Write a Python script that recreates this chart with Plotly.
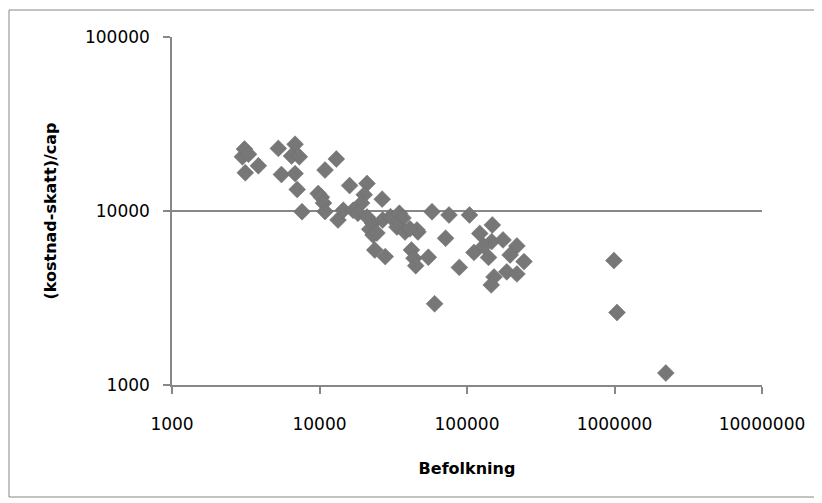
import plotly.graph_objects as go

befolkning = [3000, 3100, 3300, 3140, 3850, 5260, 5520, 6830, 6460, 7300,
              6830, 7060, 7610, 10900, 13000, 9800, 10300, 10650, 10900, 13350,
              14500, 16000, 16900, 21000, 20100, 19300, 18200, 26600, 22950, 21000,
              21900, 23050, 23700, 27900, 26800, 30300, 34800, 36800, 33500, 38000,
              46500, 42000, 43700, 44900, 54700, 57900, 71600, 60300, 88700, 75500,
              104000, 148500, 122000, 147000, 175500, 111500, 140000, 218000, 196000, 243500,
              152500, 186000, 218000, 146000, 130000, 24500, 45800, 41000,
              991000, 1040000, 2228000]
kostnad_per_cap = [20500, 22700, 21200, 16600, 18200, 22900, 16200, 24200, 20700, 20500,
                   16400, 13300, 9910, 17200, 19900, 12600, 12000, 11100, 9930, 8880,
                   10100, 14000, 10100, 14400, 12400, 11100, 9700, 11700, 8500, 9240,
                   7850, 7280, 5970, 5470, 8880, 9270, 9700, 9120, 8090, 7580,
                   7580, 5970, 5350, 4850, 5420, 9910, 6970, 2930, 4740, 9490,
                   9490, 8310, 7430, 6670, 6820, 5780, 5410, 6300, 5590, 5120,
                   4180, 4470, 4350, 3760, 6290, 7480, 7780, 7900,
                   5190, 2610, 1172]

x_ticks = [1000, 10000, 100000, 1000000, 10000000]
x_ticktext = ["1000", "10000", "100000", "1000000", "10000000"]
y_ticks = [1000, 10000, 100000]
y_ticktext = ["1000", "10000", "100000"]

grid_col = "#878787"
font_fam = "DejaVu Sans"

# page body has an 8px default margin; compensate so the plot lands where intended
L, T, PW, PH = 164, 29, 590, 348

fig = go.Figure(go.Scatter(
    x=befolkning, y=kostnad_per_cap, mode="markers",
    marker=dict(symbol="diamond", size=13, color="#777777",
                line=dict(width=0.5, color="#6e6e6e")),
    showlegend=False, hoverinfo="x+y"))

fig.update_layout(
    width=822, height=503,
    margin=dict(l=L, r=822 - L - PW, t=T, b=503 - T - PH),
    paper_bgcolor="white", plot_bgcolor="white",
    font=dict(family=font_fam, size=17, color="black"),
    xaxis=dict(type="log", range=[3, 7], tickvals=x_ticks, ticktext=x_ticktext,
               showgrid=False, zeroline=False, showline=True, linecolor=grid_col, linewidth=1.5,
               ticks="outside", ticklen=7, tickcolor=grid_col, tickwidth=1.5,
               ticklabelstandoff=16, automargin=False,
               title=dict(text="<b>Befolkning</b>", font=dict(size=16, family=font_fam), standoff=30)),
    yaxis=dict(type="log", range=[3, 5], tickvals=y_ticks, ticktext=y_ticktext,
               showgrid=True, gridcolor=grid_col, gridwidth=1.5,
               zeroline=False, showline=True, linecolor=grid_col, linewidth=1.5,
               ticks="outside", ticklen=7, tickcolor=grid_col, tickwidth=1.5,
               ticklabelstandoff=10, automargin=False,
               title=dict(text="<b>(kostnad-skatt)/cap</b>", font=dict(size=16, family=font_fam), standoff=24)),
    shapes=[dict(type="rect", xref="paper", yref="paper",
                 x0=(1 - L) / PW, x1=(807 - L) / PW,
                 y0=(T + PH - 489) / PH, y1=(T + PH - 2) / PH,
                 line=dict(color="#868686", width=1), fillcolor="rgba(0,0,0,0)", layer="below")],
)

fig.write_html("out.html")
